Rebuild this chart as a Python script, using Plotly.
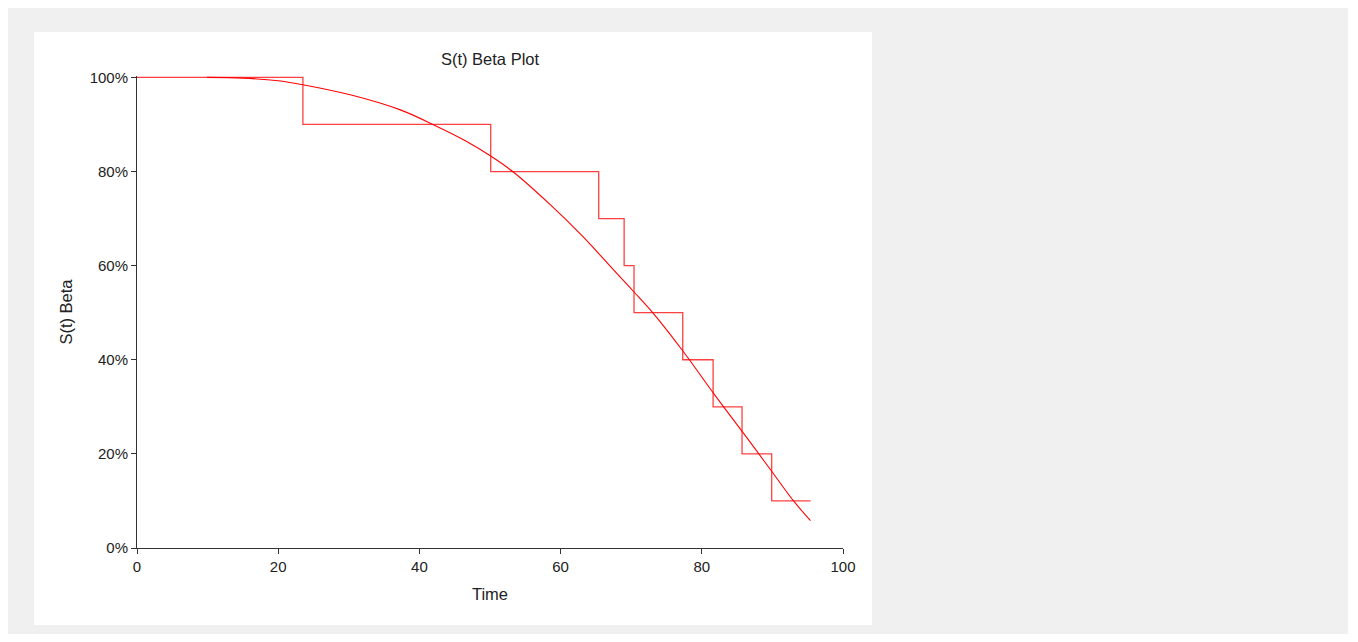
import plotly.graph_objects as go

# Empirical (step) survival
step_time = [0, 23.5, 50.1, 65.4, 69.0, 70.4, 77.3, 81.6, 85.7, 89.9, 95.4]
step_surv = [100, 90, 80, 70, 60, 50, 40, 30, 20, 10, 10]

# Fitted Beta survival curve
fit_time = [9.9, 15.0, 20.0, 23.3, 30.2, 37.3, 42.2, 46.7, 50.1, 53.3, 58.5, 63.2,
            67.5, 70.4, 73.1, 77.4, 81.8, 85.9, 90.0, 93.0, 95.4]
fit_surv = [100, 99.85, 99.3, 98.5, 96.3, 93.1, 89.8, 86.4, 83.3, 79.9, 73.0, 66.1,
            59.1, 54.4, 49.9, 41.7, 32.6, 24.4, 16.1, 10.0, 5.8]

x_ticks = [0, 20, 40, 60, 80, 100]
y_ticks = [0, 20, 40, 60, 80, 100]
y_tick_text = ["0%", "20%", "40%", "60%", "80%", "100%"]

W, H = 1340, 626
ML, MR, MT, MB = 129, W - 835, 68, 626 - 540
PW, PH = 835 - 129, 540 - 68

fig = go.Figure()
fig.add_trace(go.Scatter(x=step_time, y=step_surv, mode="lines", line_shape="hv",
                         line=dict(color="rgba(255,0,0,0.75)", width=1.3),
                         showlegend=False, hoverinfo="x+y"))
fig.add_trace(go.Scatter(x=fit_time, y=fit_surv, mode="lines", line_shape="spline",
                         line=dict(color="#ff0000", width=1.1, smoothing=1.0),
                         showlegend=False, hoverinfo="x+y"))

# white panel behind the chart
fig.add_shape(type="rect", xref="paper", yref="paper", layer="below",
              x0=(26 - ML) / PW, x1=(864 - ML) / PW,
              y0=(540 - 617) / PH, y1=(540 - 24) / PH,
              fillcolor="white", line=dict(width=0))

font_fam = "Liberation Sans, Arial, sans-serif"
fig.update_layout(
    width=W, height=H,
    margin=dict(l=ML, r=MR, t=MT, b=MB, autoexpand=False),
    paper_bgcolor="#f0f0f0", plot_bgcolor="white",
    font=dict(family=font_fam, size=15, color="#222"),
    title=dict(text="S(t) Beta Plot", x=(490 - 8) / W, xanchor="center",
               xref="container", yref="container", y=1 - 51 / H, yanchor="middle",
               font=dict(size=16.5, color="#222")),
    xaxis=dict(range=[0, 100], tickvals=x_ticks, showgrid=False, zeroline=False,
               showline=True, linecolor="#333", linewidth=1, ticks="outside",
               ticklen=5, tickcolor="#333", tickfont=dict(size=15),
               title=dict(text="Time", font=dict(size=16.5), standoff=14)),
    yaxis=dict(range=[0, 100.3], tickvals=y_ticks, ticktext=y_tick_text,
               showgrid=False, zeroline=False,
               showline=True, linecolor="#333", linewidth=1, ticks="outside",
               ticklen=5, tickcolor="#333", tickfont=dict(size=15),
               title=dict(text="S(t) Beta", font=dict(size=16.5), standoff=12)),
)

fig.write_html("out.html")
